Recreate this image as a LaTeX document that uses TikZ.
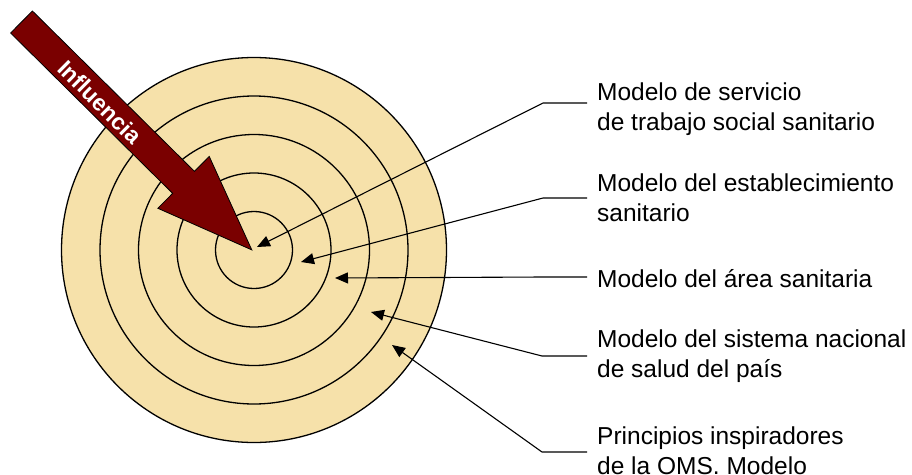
\documentclass[tikz,border=0pt]{standalone}
\usepackage{fontspec}
\setmainfont{Liberation Sans}
\usetikzlibrary{arrows.meta,positioning,calc}
\definecolor{ringfill}{RGB}{246,225,170}
\definecolor{influred}{RGB}{122,0,0}
\def \ringStep {38.5}
\tikzset{
 	ring/.style= {draw=black, line width=1.3pt},
 	labelblock/.style= {draw=none, anchor=west, align=left, inner xsep=10pt, font=\fontsize{24.5}{30}\selectfont},
 	pointer/.style= {draw=black, line width=1.1pt, -{Triangle[length=13pt,width=11pt]}},
 	influarrow/.style= {draw=black, line width=0.8pt, fill=influred},
	infltext/.style= {text=white, inner sep=0pt, font=\fontsize{23}{23}\selectfont\bfseries, rotate=-44.7}
 }

\begin{document}
\begin{tikzpicture}[x=1pt,y=-1pt]
\useasboundingbox (0,0) rectangle (912,474);

%%%%%%%%%%%%%%%%%%%%% Rings %%%%%%%%%%%%%%%%%%%%%
	\coordinate (center) at (254,250);
	\fill [ringfill] (center) circle [radius=5*\ringStep pt];
	\foreach \r in {1,...,5}
		\draw [ring] (center) circle [radius=\r*\ringStep pt];

%%%%%%%%%%%%%%%%%%%%% Influence arrow %%%%%%%%%%%%%%%%%%%%%
	\begin{scope}[shift={(21.5,22)}, rotate=-44.7]
		\draw [influarrow] (0,-15.5) -- (228,-15.5) -- (228,-36.5) -- (324,0) -- (228,36.5) -- (228,15.5) -- (0,15.5) -- cycle;
	\end{scope}
	\node [infltext] (influ) at (100,102) {Influencia};

%%%%%%%%%%%%%%%%%%%%% Nodes %%%%%%%%%%%%%%%%%%%%%
	\node [labelblock] (servicio) at (587,109) {Modelo de servicio\\de trabajo social sanitario};
	\node [labelblock] (establec) at (587,198) {Modelo del establecimiento\\sanitario};
	\node [labelblock] (area) at (587,279) {Modelo del área sanitaria};
	\node [labelblock] (sistema) at (587,356) {Modelo del sistema nacional\\de salud del país};
	\node [labelblock] (oms) at (587,451) {Principios inspiradores\\de la OMS. Modelo};

%%%%%%%%%%%%%%%%%%%%% Connectors %%%%%%%%%%%%%%%%%%%%%
	\coordinate (k1) at (543,103);	\coordinate (t1) at (257,247);
	\coordinate (k2) at (543,198);	\coordinate (t2) at (301,262);
	\coordinate (k3) at (543,277);	\coordinate (t3) at (335,278);
	\coordinate (k4) at (542,356);	\coordinate (t4) at (371,312);
	\coordinate (k5) at (542,452);	\coordinate (t5) at (392,345);

	\draw [pointer] (servicio.west |- k1) -- (k1) -- (t1);
	\draw [pointer] (establec.west |- k2) -- (k2) -- (t2);
	\draw [pointer] (area.west |- k3) -- (k3) -- (t3);
	\draw [pointer] (sistema.west |- k4) -- (k4) -- (t4);
	\draw [pointer] (oms.west |- k5) -- (k5) -- (t5);

\end{tikzpicture}
\end{document}
